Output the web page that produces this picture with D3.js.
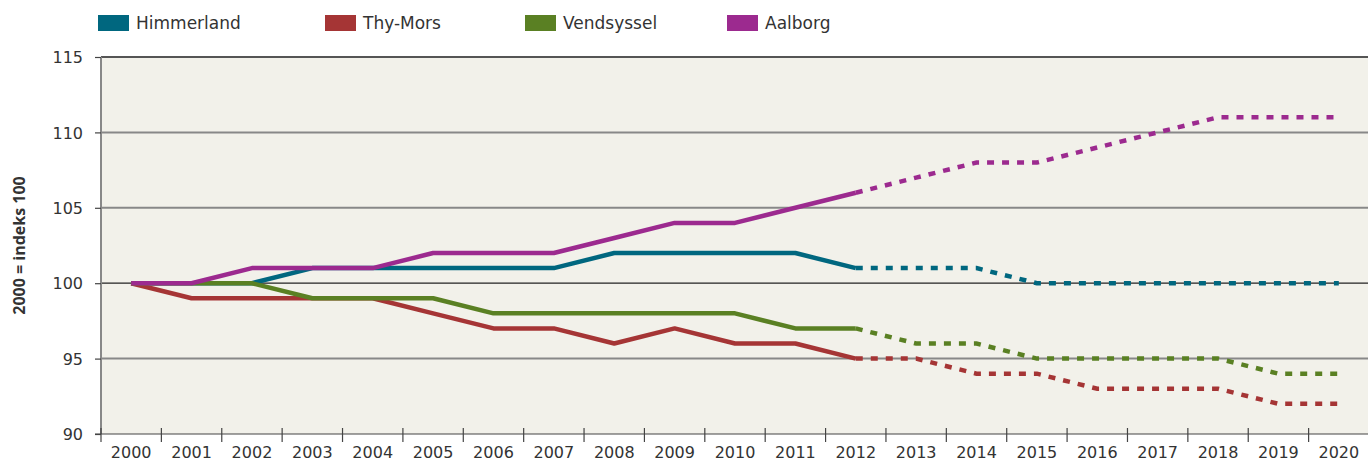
<!DOCTYPE html>
<html>
<head>
<meta charset="utf-8">
<script src="https://cdn.jsdelivr.net/npm/d3@7"></script>
<style>
  body { margin: 0; background: #fff; }
  text { font-family: "DejaVu Sans", sans-serif; fill: #333; }
</style>
</head>
<body>
<div id="chart"></div>
<script>
// data
var years = ["2000","2001","2002","2003","2004","2005","2006","2007","2008","2009","2010",
             "2011","2012","2013","2014","2015","2016","2017","2018","2019","2020"];
var lastActual = "2012";   // dashed after this year (forecast)

var himmerland = [100,100,100,101,101,101,101,101,102,102,102,102,101,101,101,100,100,100,100,100,100];
var thyMors    = [100,99,99,99,99,98,97,97,96,97,96,96,95,95,94,94,93,93,93,92,92];
var vendsyssel = [100,100,100,99,99,99,98,98,98,98,98,97,97,96,96,95,95,95,95,94,94];
var aalborg    = [100,100,101,101,101,102,102,102,103,104,104,105,106,107,108,108,109,110,111,111,111];

var seriesNames = ["Himmerland", "Thy-Mors", "Vendsyssel", "Aalborg"];
var yTicks = [90, 95, 100, 105, 110, 115];
var yLabel = "2000 = indeks 100";

var colors = ["#00677f", "#a53535", "#5a8023", "#9c2a8f"];
var seriesValues = [himmerland, thyMors, vendsyssel, aalborg];

var series = seriesNames.map(function(name, i){
    return {
        name: name,
        color: colors[i],
        values: years.map(function(y, j){ return {year: y, value: seriesValues[i][j]}; })
    };
});

var width = 1368, height = 466;
var margin = {top: 57, right: 0, bottom: 32, left: 101};
var w = width - margin.left - margin.right,
    h = height - margin.top - margin.bottom;

var svg = d3.select("#chart").append("svg")
    .attr("width", width)
    .attr("height", height);

var g = svg.append("g")
    .attr("transform", "translate(" + margin.left + "," + margin.top + ")");

var xScale = d3.scaleBand().domain(years).range([0, w + 1]);
var yScale = d3.scaleLinear().domain([90, 115]).range([h, 0]);

function xc(y){ return xScale(y) + xScale.bandwidth() / 2; }

// plot background
g.append("rect")
    .attr("width", w)
    .attr("height", h)
    .attr("fill", "#f2f1ea");

// grid lines
g.selectAll(".grid")
    .data(yTicks.filter(function(d){ return d > 90; }))
    .enter().append("line")
    .attr("x1", 0).attr("x2", w)
    .attr("y1", function(d){ return yScale(d); })
    .attr("y2", function(d){ return yScale(d); })
    .attr("stroke", function(d){ return d === 100 ? "#222" : (d === 115 ? "#555" : "#888"); })
    .attr("stroke-width", function(d){ return d === 100 ? 1.2 : 2; });

// left axis line
g.append("line")
    .attr("x1", 0).attr("x2", 0)
    .attr("y1", 0).attr("y2", h)
    .attr("stroke", "#888").attr("stroke-width", 2);

// y axis ticks + labels
var yAxis = d3.axisLeft(yScale).tickValues(yTicks).tickSize(6).tickPadding(12);
var yg = g.append("g").call(yAxis);
yg.select(".domain").remove();
yg.selectAll("line").attr("stroke", "#444").attr("stroke-width", 1.2);
yg.selectAll("text").style("font-family", "'DejaVu Sans', sans-serif")
    .style("font-size", "16px").attr("fill", "#333").attr("dy", "0.36em");

// x axis
var xAxis = d3.axisBottom(xScale).tickSize(0).tickPadding(13);
var xg = g.append("g").attr("transform", "translate(0," + h + ")").call(xAxis);
xg.select(".domain").remove();
xg.selectAll("text").style("font-family", "'DejaVu Sans', sans-serif")
    .style("font-size", "16px").attr("fill", "#333");

g.append("line")
    .attr("x1", -6).attr("x2", w)
    .attr("y1", h).attr("y2", h)
    .attr("stroke", "#444").attr("stroke-width", 1.2);

// tick marks at band boundaries
g.selectAll(".xtick")
    .data(years)
    .enter().append("line")
    .attr("x1", function(d){ return xScale(d); })
    .attr("x2", function(d){ return xScale(d); })
    .attr("y1", h - 6).attr("y2", h + 8)
    .attr("stroke", "#444").attr("stroke-width", 1.2);

// y label
svg.append("text")
    .attr("transform", "translate(25," + (margin.top + h / 2) + ") rotate(-90)")
    .attr("text-anchor", "middle")
    .style("font-family", "'Open Sans', sans-serif")
    .style("font-size", "16px")
    .style("font-weight", "bold")
    .attr("fill", "#333")
    .text(yLabel);

// lines
var line = d3.line()
    .x(function(d){ return xc(d.year); })
    .y(function(d){ return yScale(d.value); });

var cut = years.indexOf(lastActual);

series.forEach(function(s){
    var solid = s.values.slice(0, cut + 1);
    var dashed = s.values.slice(cut);

    g.append("path")
        .datum(solid)
        .attr("d", line)
        .attr("fill", "none")
        .attr("stroke", s.color)
        .attr("stroke-width", 4.5)
        .attr("stroke-linejoin", "round");

    g.append("path")
        .datum(dashed)
        .attr("d", line)
        .attr("fill", "none")
        .attr("stroke", s.color)
        .attr("stroke-width", 4.5)
        .attr("stroke-dasharray", "7,8");
});

// legend
var legendX = [98, 325, 525, 727];
var legend = svg.selectAll(".legend")
    .data(series)
    .enter().append("g")
    .attr("transform", function(d, i){ return "translate(" + legendX[i] + ",15)"; });

legend.append("rect")
    .attr("width", 31)
    .attr("height", 16)
    .attr("fill", function(d){ return d.color; });

legend.append("text")
    .attr("x", 38)
    .attr("y", 14)
    .style("font-size", "17px")
    .attr("fill", "#333")
    .text(function(d){ return d.name; });
</script>
</body>
</html>
